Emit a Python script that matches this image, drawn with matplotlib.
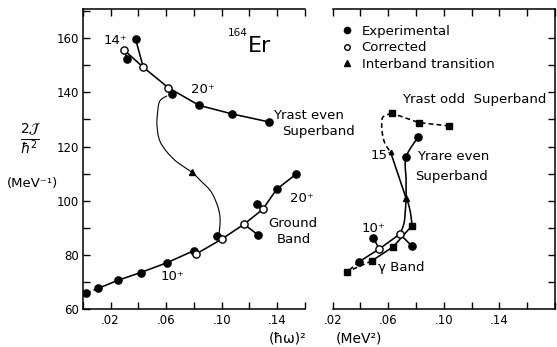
import numpy as np
import matplotlib
matplotlib.use("Agg")
import matplotlib.pyplot as plt
from matplotlib.lines import Line2D

# ---------------- Left panel: 164Er moment of inertia vs (hbar omega)^2 ----------------
# Ground band, experimental points (filled circles)
gs_exp_x = [0.0024, 0.0112, 0.0256, 0.0417, 0.0605, 0.0801, 0.0969, 0.1257, 0.1264, 0.1396, 0.1535]
gs_exp_y = [66.0, 67.8, 70.8, 73.6, 77.2, 81.7, 87.2, 98.9, 87.4, 104.3, 109.8]
# Ground band, corrected points (open circles)
gs_cor_x = [0.0815, 0.1000, 0.1161, 0.1296]
gs_cor_y = [80.4, 85.9, 91.4, 96.9]

# Yrast even superband
ys_exp_x = [0.0380, 0.0321, 0.0641, 0.0837, 0.1077, 0.1339]
ys_exp_y = [159.7, 152.2, 139.3, 135.2, 132.0, 129.1]
ys_cor_x = [0.0297, 0.0436, 0.0616]
ys_cor_y = [155.6, 149.2, 141.7]

# Interband transition (triangle) and the hand-drawn connecting curve
ib_x = [0.0785]
ib_y = [110.5]
ib_curve_x = [0.0603, 0.0555, 0.0540, 0.0535, 0.0562, 0.0658, 0.0785, 0.0845, 0.0917, 0.0965, 0.0988, 0.0983, 0.0969]
ib_curve_y = [138.6, 136.8, 133.0, 127.4, 121.3, 115.2, 110.6, 107.6, 103.9, 99.0, 94.1, 88.6, 87.2]

# ---------------- Right panel: vs (MeV^2) ----------------
# Yrast odd superband (squares, dashed)
odd_x = [0.1039, 0.0823, 0.0625]
odd_y = [127.6, 128.8, 132.3]
odd_curve_x = [0.0625, 0.0564, 0.0553, 0.0557, 0.0576, 0.0617]
odd_curve_y = [132.3, 131.0, 128.6, 124.9, 121.2, 117.9]
# 15+ level
odd15_x = [0.0617]
odd15_y = [117.9]

# Yrare even superband (filled circles)
yr_exp_x = [0.0816, 0.0728]
yr_exp_y = [123.6, 116.1]
# interband transition point
ib2_x = [0.0728]
ib2_y = [101.0]
# gamma band (squares)
gam_x = [0.0769, 0.0636, 0.0481, 0.0305]
gam_y = [90.8, 83.1, 77.9, 73.9]
# ground band continuation
gr_cor_x = [0.0684, 0.0535]
gr_cor_y = [87.8, 82.3]
gr_exp_x = [0.0492, 0.0391, 0.0769]
gr_exp_y = [86.4, 77.6, 83.4]

# ---------------- helpers ----------------
def smooth(xs, ys, n=16):
    """Catmull-Rom spline through the given points."""
    p = np.column_stack([xs, ys]).astype(float)
    p = np.vstack([p[0], p, p[-1]])
    out = []
    t = np.linspace(0, 1, n, endpoint=False)[:, None]
    for i in range(1, len(p) - 2):
        p0, p1, p2, p3 = p[i - 1], p[i], p[i + 1], p[i + 2]
        seg = 0.5 * ((2 * p1) + (-p0 + p2) * t + (2 * p0 - 5 * p1 + 4 * p2 - p3) * t ** 2
                     + (-p0 + 3 * p1 - 3 * p2 + p3) * t ** 3)
        out.append(seg)
    out.append(p[-2][None, :])
    out = np.vstack(out)
    return out[:, 0], out[:, 1]

K = "black"
LW = 1.15
FS = 9.5
MS = 5.2
filled = dict(marker="o", ms=MS, mfc=K, mec=K, ls="none", zorder=5)
hollow = dict(marker="o", ms=MS, mfc="white", mec=K, mew=1.0, ls="none", zorder=6)
square = dict(marker="s", ms=4.6, mfc=K, mec=K, ls="none", zorder=5)
tri = dict(marker="^", ms=5, mfc=K, mec=K, ls="none", zorder=5)

fig = plt.figure(figsize=(5.57, 3.47), dpi=100)
axL = fig.add_axes([0.1485, 0.1081, 0.3991, 0.8646])
axR = fig.add_axes([0.5973, 0.1081, 0.3991, 0.8646])

for ax in (axL, axR):
    ax.patch.set_visible(False)
    ax.set_ylim(60, 170.5)
    for s in ax.spines.values():
        s.set_linewidth(1.1)
    ax.tick_params(which="both", direction="in", length=5, width=1.0,
                   labelsize=8.5, pad=3)

# ---- left axes frame ----
axL.set_xlim(0, 0.16)
axL.spines["right"].set_visible(False)
axL.set_xticks([0.02, 0.06, 0.10, 0.14])
axL.set_xticklabels([".02", ".06", ".10", ".14"])
axL.set_xticks([0.0, 0.04, 0.08, 0.12, 0.16], minor=True)
axL.set_yticks([60, 80, 100, 120, 140, 160])
axL.set_yticks([70, 90, 110, 130, 150, 170], minor=True)
axL.tick_params(which="both", top=True, right=False, left=True, bottom=True)

# ---- right axes frame ----
axR.set_xlim(0.02, 0.18)
axR.spines["left"].set_visible(False)
axR.set_xticks([0.02, 0.06, 0.10, 0.14])
axR.set_xticklabels([".02", ".06", ".10", ".14"])
axR.set_xticks([0.04, 0.08, 0.12, 0.16, 0.18], minor=True)
axR.set_yticks(np.arange(70, 170, 10))
axR.tick_params(which="both", top=True, bottom=True, left=False, right=True,
                labelleft=False, labelright=False)

# ================= left panel drawing =================
# ground band main line
main_x = gs_exp_x[1:6] + gs_cor_x + gs_exp_x[9:11]
main_y = gs_exp_y[1:6] + gs_cor_y + gs_exp_y[9:11]
axL.plot(main_x, main_y, color=K, lw=LW, zorder=3)
axL.plot(gs_exp_x[0:2], gs_exp_y[0:2], color=K, lw=LW, ls=(0, (3, 2)), zorder=3)
for e, c in ((6, 1), (7, 3), (8, 2)):
    axL.plot([gs_exp_x[e], gs_cor_x[c]], [gs_exp_y[e], gs_cor_y[c]], color=K, lw=LW, zorder=3)
axL.plot(gs_exp_x, gs_exp_y, **filled)
axL.plot(gs_cor_x, gs_cor_y, **hollow)

# yrast even superband
sb_x = ys_cor_x + ys_exp_x[3:6]
sb_y = ys_cor_y + ys_exp_y[3:6]
axL.plot(sb_x, sb_y, color=K, lw=LW, zorder=3)
axL.plot([ys_exp_x[0], ys_cor_x[1]], [ys_exp_y[0], ys_cor_y[1]], color=K, lw=LW, zorder=3)
axL.plot([ys_exp_x[1], ys_cor_x[0]], [ys_exp_y[1], ys_cor_y[0]], color=K, lw=LW, zorder=3)
axL.plot(ys_exp_x, ys_exp_y, **filled)
axL.plot(ys_cor_x, ys_cor_y, **hollow)

# interband transition curve
cx, cy = smooth(ib_curve_x, ib_curve_y)
axL.plot(cx, cy, color=K, lw=0.8, zorder=2)
axL.plot(ib_x, ib_y, **tri)

# labels left
axL.text(0.0234, 159.2, "14⁺", ha="center", va="center", fontsize=FS)
axL.text(0.0868, 140.9, "20⁺", ha="center", va="center", fontsize=FS)
axL.text(0.1185, 161.8, "164", ha="right", va="center", fontsize=7.5)
axL.text(0.119, 157.2, "Er", ha="left", va="center", fontsize=16)
axL.text(0.137, 131.6, "Yrast even", ha="left", va="center", fontsize=FS, clip_on=False, zorder=10)
axL.text(0.1435, 125.5, "Superband", ha="left", va="center", fontsize=FS, clip_on=False, zorder=10)
axL.text(0.1576, 101.0, "20⁺", ha="center", va="center", fontsize=FS, clip_on=False)
axL.text(0.151, 91.8, "Ground", ha="center", va="center", fontsize=FS, clip_on=False)
axL.text(0.1517, 85.9, "Band", ha="center", va="center", fontsize=FS, clip_on=False)
axL.text(0.0646, 72.3, "10⁺", ha="center", va="center", fontsize=FS)

# ================= right panel drawing =================
# yrast odd superband (dashed)
axR.plot(odd_x, odd_y, color=K, lw=LW, ls=(0, (3, 2)), zorder=3)
ox, oy = smooth(odd_curve_x, odd_curve_y)
axR.plot(ox, oy, color=K, lw=LW, ls=(0, (3, 2)), zorder=3)
axR.plot(odd_x, odd_y, **square)
axR.plot(odd15_x, odd15_y, marker="^", ms=3.2, mfc=K, mec=K, ls="none", zorder=5)

# yrare even superband down through the transition into the ground band
yx, yy = smooth([yr_exp_x[0], yr_exp_x[1], 0.0728, ib2_x[0], 0.0723, 0.0713, gr_cor_x[0]],
                [yr_exp_y[0], yr_exp_y[1], 108.0, ib2_y[0], 96.6, 91.7, gr_cor_y[0]])
axR.plot(yx, yy, color=K, lw=LW, zorder=3)
# 15+ to transition point, then into the gamma band
axR.plot([odd15_x[0], ib2_x[0]], [odd15_y[0], ib2_y[0]], color=K, lw=LW, zorder=3)
gx, gy = smooth([ib2_x[0], 0.0737, 0.0756, 0.0767, gam_x[0]],
                [ib2_y[0], 100.3, 96.6, 93.0, gam_y[0]])
axR.plot(gx, gy, color=K, lw=LW, zorder=3)
# gamma band
axR.plot(gam_x[0:3], gam_y[0:3], color=K, lw=LW, zorder=3)
axR.plot(gam_x[2:4], gam_y[2:4], color=K, lw=LW, ls=(0, (3, 2)), zorder=3)
# ground band continuation
axR.plot(gr_cor_x + [gr_exp_x[1]], gr_cor_y + [gr_exp_y[1]], color=K, lw=LW, zorder=3)
axR.plot([gr_exp_x[1], gam_x[3]], [gr_exp_y[1], gam_y[3]], color=K, lw=LW, ls=(0, (3, 2)), zorder=3)
axR.plot([gr_exp_x[0], gr_cor_x[1]], [gr_exp_y[0], gr_cor_y[1]], color=K, lw=LW, zorder=3)
axR.plot([gr_exp_x[2], gr_cor_x[0]], [gr_exp_y[2], gr_cor_y[0]], color=K, lw=LW, zorder=3)

axR.plot(yr_exp_x, yr_exp_y, **filled)
axR.plot(gr_exp_x, gr_exp_y, **filled)
axR.plot(gr_cor_x, gr_cor_y, **hollow)
axR.plot(gam_x, gam_y, **square)
axR.plot(ib2_x, ib2_y, marker="^", ms=4, mfc=K, mec=K, ls="none", zorder=5)

# labels right
axR.text(0.0697, 137.2, "Yrast odd  Superband", ha="left", va="center", fontsize=FS)
axR.text(0.0555, 116.9, "15⁺", ha="center", va="center", fontsize=FS)
axR.text(0.0805, 116.2, "Yrare even", ha="left", va="center", fontsize=FS)
axR.text(0.0792, 108.8, "Superband", ha="left", va="center", fontsize=FS)
axR.text(0.0492, 89.9, "10⁺", ha="center", va="center", fontsize=FS)
axR.text(0.0529, 75.3, "γ Band", ha="left", va="center", fontsize=FS)

# legend
handles = [
    Line2D([], [], marker="o", ms=4.5, mfc=K, mec=K, ls="none"),
    Line2D([], [], marker="o", ms=4.0, mfc="white", mec=K, mew=1.0, ls="none"),
    Line2D([], [], marker="^", ms=4.5, mfc=K, mec=K, ls="none"),
]
fig.legend(handles, ["Experimental", "Corrected", "Interband transition"],
           loc="upper left", bbox_to_anchor=(342 / 557, 1 - 24.6 / 347),
           frameon=False, fontsize=FS, handlelength=0.8, handletextpad=0.69,
           labelspacing=0.27, borderpad=0, borderaxespad=0, numpoints=1)

# axis titles
W, H = 557, 347
fig.text(31 / W, 1 - 139 / H, r"$\frac{2\mathcal{J}}{\hbar^2}$", ha="center", va="center", fontsize=14)
fig.text(32.5 / W, 1 - 184 / H, "(MeV⁻¹)", ha="center", va="center", fontsize=FS)
fig.text(288 / W, 1 - 338 / H, "(ħω)²", ha="center", va="center", fontsize=FS + 0.5)
fig.text(358.5 / W, 1 - 338 / H, "(MeV²)", ha="center", va="center", fontsize=FS + 0.5)

fig.savefig("out.png", dpi=100, facecolor="white")
